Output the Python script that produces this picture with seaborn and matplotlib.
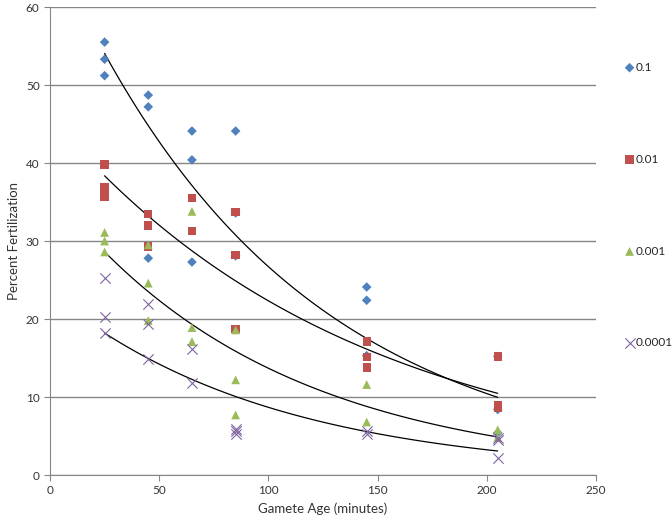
import numpy as np
import pandas as pd
import matplotlib
matplotlib.use("Agg")
import matplotlib.pyplot as plt
import seaborn as sns

# gamete age (minutes) and percent fertilization
age_01 = [25, 25, 25, 45, 45, 45, 65, 65, 65, 85, 85, 85, 145, 145, 145, 205, 205, 205]
fert_01 = [55.5, 53.3, 51.2, 48.7, 47.2, 27.8, 44.1, 40.4, 27.3, 44.1, 33.6, 28.1, 24.1, 22.4, 15.3, 15.2, 8.4, 5.4]

age_001 = [25, 25, 25, 25, 45, 45, 45, 65, 65, 85, 85, 85, 145, 145, 145, 205, 205, 205]
fert_001 = [39.8, 36.9, 36.2, 35.6, 33.5, 32.0, 29.3, 35.5, 31.3, 33.7, 28.2, 18.7, 17.1, 15.1, 13.8, 15.2, 8.9, 8.6]

age_0001 = [25, 25, 25, 45, 45, 45, 65, 65, 65, 85, 85, 85, 145, 145, 205, 205]
fert_0001 = [31.1, 30.0, 28.6, 29.5, 24.6, 19.8, 33.8, 18.9, 17.1, 18.6, 12.2, 7.7, 11.6, 6.8, 5.8, 4.8]

age_00001 = [25, 25, 25, 45, 45, 45, 65, 65, 85, 85, 85, 145, 145, 205, 205, 205]
fert_00001 = [25.2, 20.2, 18.2, 21.9, 19.4, 14.9, 16.2, 11.8, 5.9, 5.6, 5.3, 5.6, 5.3, 4.8, 4.5, 2.2]

series = {
    '0.1': (age_01, fert_01),
    '0.01': (age_001, fert_001),
    '0.001': (age_0001, fert_0001),
    '0.0001': (age_00001, fert_00001),
}
colors = {'0.1': '#4F81BD', '0.01': '#C0504D', '0.001': '#9BBB59', '0.0001': '#8064A2'}
markers = {'0.1': 'D', '0.01': 's', '0.001': '^', '0.0001': 'X'}

rows = []
for name, (xs, ys) in series.items():
    rows.append(pd.DataFrame({'Age': xs, 'Fert': ys, 'Conc': name}))
df = pd.concat(rows)

sns.set_style('white')
plt.rcParams['font.family'] = ['Lato', 'DejaVu Sans']

fig = plt.figure(figsize=(6.72, 5.32), dpi=100)
ax = fig.add_axes([50 / 672, 1 - 475 / 532, 546 / 672, 468 / 532])

# exponential trendlines like excel
for name, (xs, ys) in series.items():
    b, log_a = np.polyfit(xs, np.log(ys), 1)
    xx = np.linspace(min(xs), max(xs), 100)
    ax.plot(xx, np.exp(log_a) * np.exp(b * xx), color='black', lw=0.9, zorder=3)

for name in series:
    sub = df[df['Conc'] == name]
    m = markers[name]
    if m == 'X':
        ax.scatter(sub['Age'], sub['Fert'], marker='x', s=55, color=colors[name],
                   linewidths=0.8, label=name, zorder=4)
    else:
        sizes = {'D': 24, 's': 36, '^': 40}
        sns.scatterplot(x=sub['Age'], y=sub['Fert'], marker=m, s=sizes[m], color=colors[name],
                        edgecolor='none', label=name, ax=ax, zorder=4)

ax.set_xlim(0, 250)
ax.set_ylim(0, 60)
ax.set_xticks(range(0, 251, 50))
ax.set_yticks(range(0, 61, 10))
ax.yaxis.grid(True, color='#868686', lw=1)
ax.xaxis.grid(False)
ax.set_axisbelow(True)
for s in ['top', 'right']:
    ax.spines[s].set_visible(False)
for s in ['left', 'bottom']:
    ax.spines[s].set_color('#868686')
ax.tick_params(axis='both', direction='out', length=4, color='#868686', labelsize=8.5,
               labelcolor='#333333', bottom=True, left=True)
ax.set_xlabel('Gamete Age (minutes)', fontsize=9.5, color='#333333')
ax.set_ylabel('Percent Fertilization', fontsize=9.5, color='#333333')

ax.legend(loc='upper left', bbox_to_anchor=(1.042, 0.893), frameon=False, fontsize=8.5,
          labelspacing=6.85, handletextpad=0.05, handlelength=1.0, borderaxespad=0)

fig.savefig('out.png', dpi=100)
